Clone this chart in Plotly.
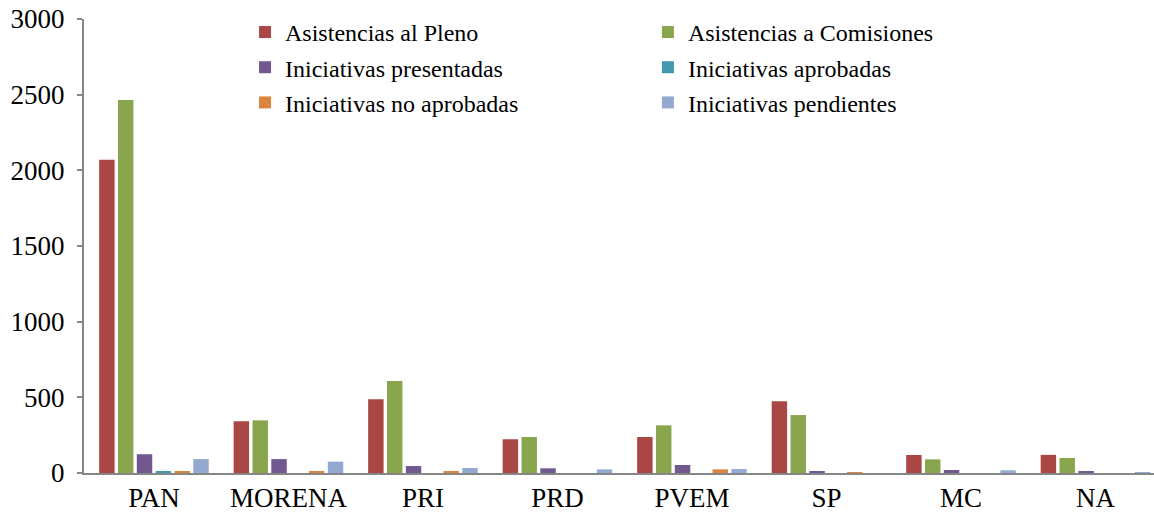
import plotly.graph_objects as go

parties = ["PAN", "MORENA", "PRI", "PRD", "PVEM", "SP", "MC", "NA"]
asist_pleno = [2070, 342, 487, 223, 238, 474, 119, 120]
asist_comisiones = [2465, 348, 608, 238, 315, 383, 90, 99]
ini_presentadas = [124, 92, 46, 31, 53, 13, 20, 13]
ini_aprobadas = [13, 0, 0, 0, 0, 0, 0, 0]
ini_no_aprobadas = [13, 10, 8, 0, 24, 3, 0, 0]
ini_pendientes = [92, 75, 33, 24, 26, 0, 18, 5]

series = [
    ("Asistencias al Pleno", asist_pleno, "#AA4643", "legend"),
    ("Asistencias a Comisiones", asist_comisiones, "#89A54E", "legend2"),
    ("Iniciativas presentadas", ini_presentadas, "#71588F", "legend"),
    ("Iniciativas aprobadas", ini_aprobadas, "#4198AF", "legend2"),
    ("Iniciativas no aprobadas", ini_no_aprobadas, "#DB843D", "legend"),
    ("Iniciativas pendientes", ini_pendientes, "#93A9CF", "legend2"),
]

fig = go.Figure()
for i, (name, vals, color, lg) in enumerate(series):
    fig.add_trace(go.Bar(
        x=parties, y=vals, name=name, marker_color=color,
        marker_line_width=0, legend=lg, legendgroup="g%d" % i,
    ))

font_family = "Liberation Serif, Times New Roman, serif"
legend_common = dict(
    font=dict(family=font_family, size=24, color="black"),
    bgcolor="rgba(0,0,0,0)", traceorder="grouped", tracegroupgap=1,
    yanchor="top", xanchor="left", y=0.979,
)

fig.update_layout(
    width=1154, height=518,
    margin=dict(l=84, r=0, t=0, b=45, autoexpand=False),
    paper_bgcolor="white", plot_bgcolor="white",
    barmode="group", bargap=0.16, bargroupgap=0.18,
    font=dict(family=font_family, size=27, color="black"),
    legend=dict(x=0.1505, **legend_common),
    legend2=dict(x=0.527, **legend_common),
    xaxis=dict(
        range=[-0.52, 7.435], showgrid=False, showline=True, automargin=False,
        linecolor="#868686", linewidth=2, ticks="",
        tickfont=dict(family=font_family, size=27, color="black"),
    ),
    yaxis=dict(
        domain=[0, 454 / 473], range=[0, 3000], dtick=500, showgrid=False,
        automargin=False, ticklabelstandoff=7,
        showline=True, linecolor="#868686", linewidth=2, ticks="outside",
        ticklen=5, tickcolor="#868686", tickwidth=2, zeroline=False,
        tickfont=dict(family=font_family, size=27, color="black"),
    ),
)

fig.write_html(
    "out.html",
    config={"displayModeBar": False},
    post_script="document.body.style.margin='0';document.body.style.overflow='hidden';",
)
